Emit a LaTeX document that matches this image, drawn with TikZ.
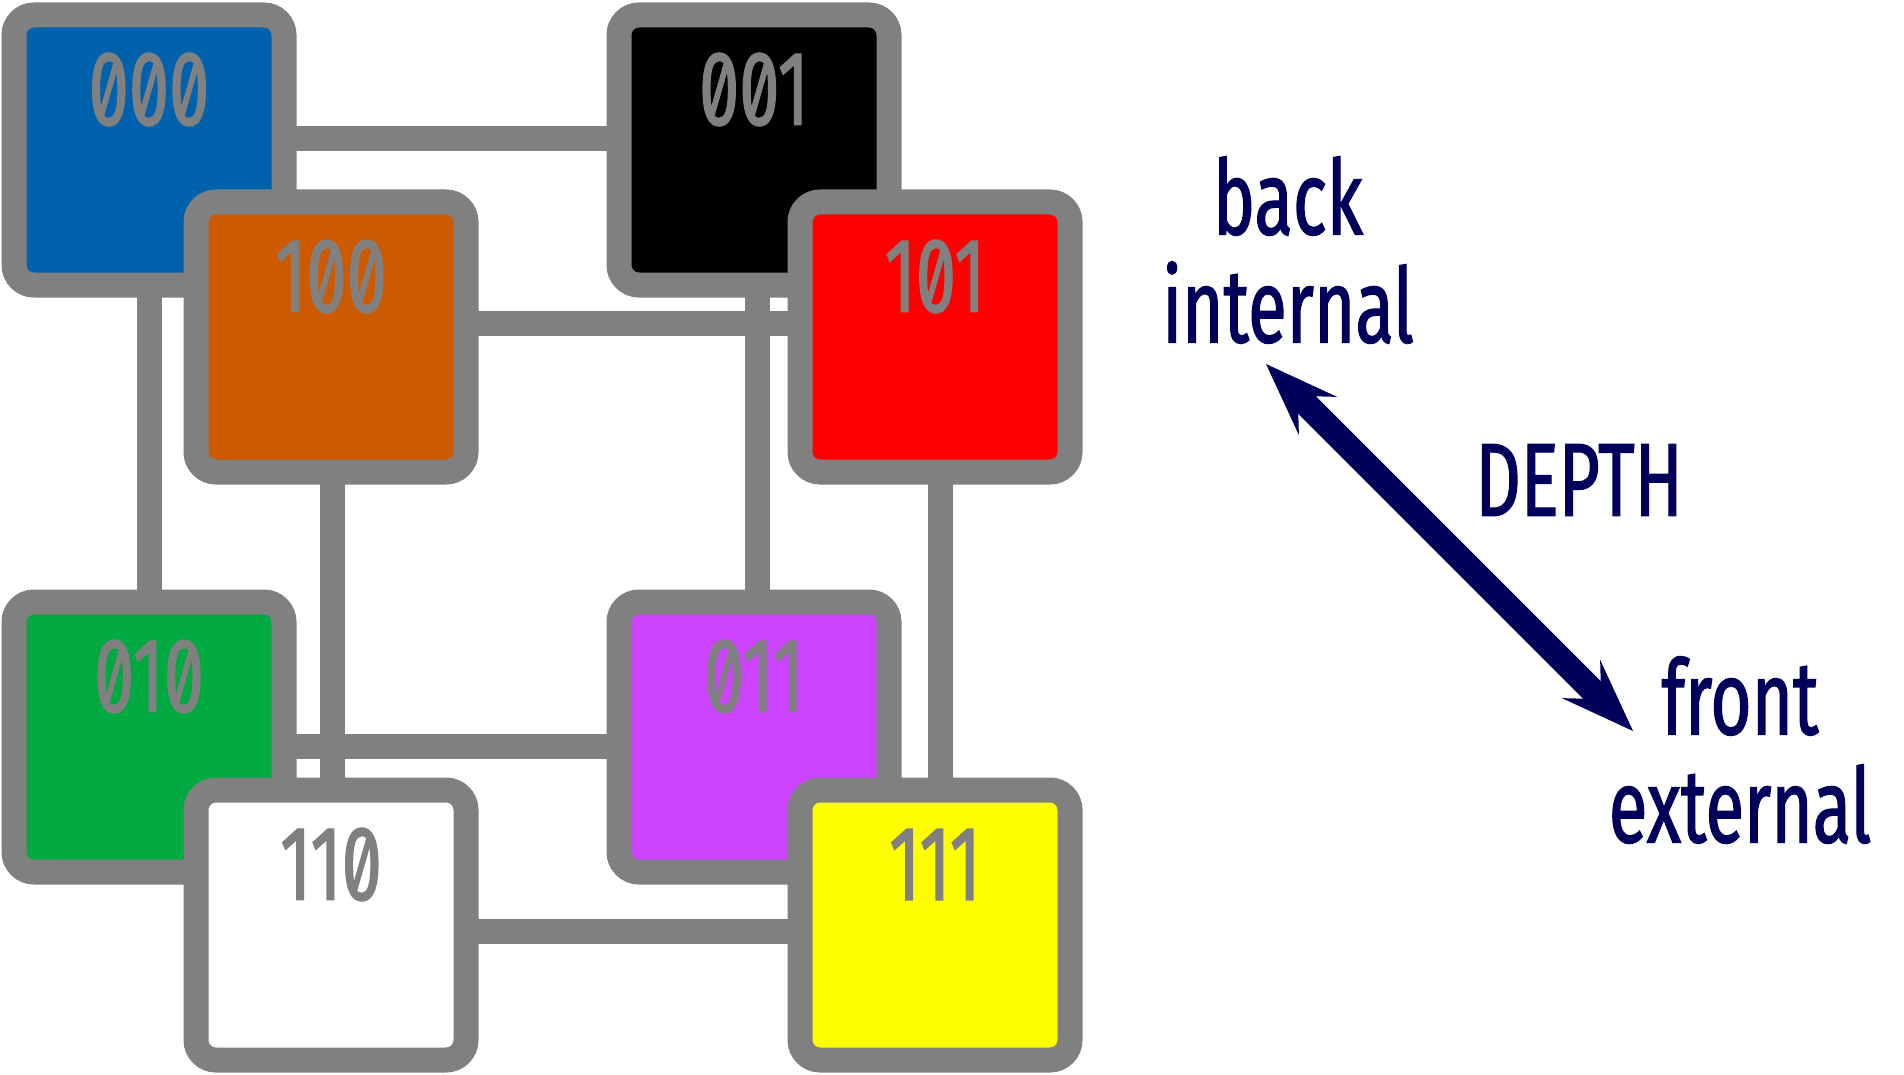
\documentclass[tikz,border=0pt]{standalone}
\usepackage{fontspec}
\newfontfamily\cubefont[FakeStretch=0.68,FakeBold=1.2,Numbers=SlashedZero]{Fira Sans}
\usetikzlibrary{arrows.meta,calc,backgrounds}
\definecolor{edge}{HTML}{808080}
\definecolor{navy}{HTML}{00005A}
\definecolor{cblue}{HTML}{0062AD}
\definecolor{corange}{HTML}{CC5A00}
\definecolor{cred}{HTML}{FF0000}
\definecolor{cgreen}{HTML}{00AA40}
\definecolor{cpurple}{HTML}{CC44FF}
\definecolor{cyellow}{HTML}{FFFF00}

\begin{document}
\begin{tikzpicture}[x=0.5pt,y=-0.5pt,
    b/.style={draw=edge,line width=12.5pt,rounded corners=10pt,minimum size=135pt,
      inner sep=0pt,outer sep=0pt,
      label={[nb,anchor=center,label distance=-37.25pt]north:#1}},
    nb/.style={text=edge,font=\cubefont\fontsize{53}{60}\selectfont},
    tx/.style={text=navy,align=center,font=\cubefont\fontsize{52}{54}\selectfont},
    ln/.style={draw=edge,line width=12.5pt},
    a/.style={>={Stealth[length=36.75pt,width=27pt,inset=14.25pt,line width=0pt]},<->,
      line width=12.5pt,navy}]
    \useasboundingbox (0,0) rectangle (1904,1075);
    % back face
    \node[b=000,fill=cblue] (n000) at (149,150) {};
    \node[b=001,fill=black] (n001) at (754,150) {};
    \node[b=010,fill=cgreen] (n010) at (149,737) {};
    \node[b=011,fill=cpurple] (n011) at (754,737) {};
    % front face
    \node[b=100,fill=corange] (n100) at (331,337) {};
    \node[b=101,fill=cred] (n101) at (935,337) {};
    \node[b=110,fill=white] (n110) at (331,925) {};
    \node[b=111,fill=cyellow] (n111) at (935,925) {};
    \begin{scope}[on background layer]
      \draw[ln] ($(n000)+(0,-11.5)$) -- ($(n001)+(0,-11.5)$);
      \draw[ln] ($(n100)+(0,-13.5)$) -- ($(n101)+(0,-13.5)$);
      \draw[ln] ($(n010)+(0,9.5)$) -- ($(n011)+(0,9.5)$);
      \draw[ln] ($(n110)+(0,6.5)$) -- ($(n111)+(0,6.5)$);
      \draw[ln] (n000) -- (n010);
      \draw[ln] ($(n100)+(1,0)$) -- ($(n110)+(1,0)$);
      \draw[ln] ($(n001)+(3,0)$) -- ($(n011)+(3,0)$);
      \draw[ln] ($(n101)+(5.5,0)$) -- ($(n111)+(5.5,0)$);
    \end{scope}
    % depth axis
    \node[tx] (bk) at (1288,250) {back\\internal};
    \node[tx] (dp) at (1579,480) {DEPTH};
    \node[tx] (fr) at (1740,750) {front\\external};
    \coordinate (dtop) at (1266,364);
    \coordinate (dbot) at (1633,731);
    \draw[a] (dtop) -- (dbot);
\end{tikzpicture}
\end{document}
